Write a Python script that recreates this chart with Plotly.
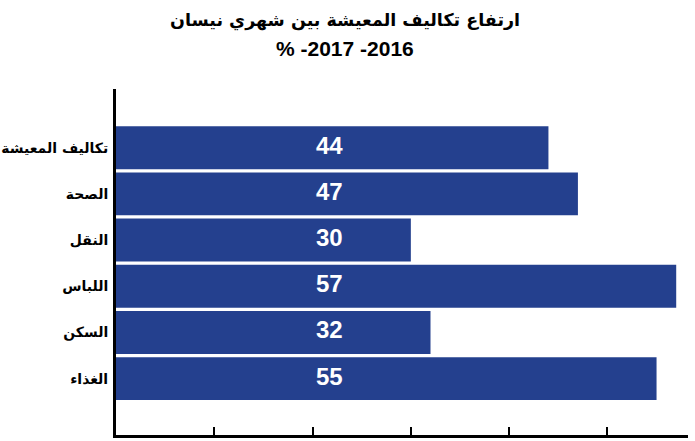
import plotly.graph_objects as go

# Data
categories = ["تكاليف المعيشة", "الصحة", "النقل", "اللباس", "السكن", "الغذاء"]
values = [44, 47, 30, 57, 32, 55]
title_main = "ارتفاع تكاليف المعيشة بين شهري نيسان"
title_sub = "% -2017 -2016"
tick_values = [0, 10, 20, 30, 40, 50]

bar_color = "#24408e"
x_max = 58.2
label_x = 21.7  # all value labels sit in one column

fig = go.Figure()

fig.add_trace(go.Bar(
    x=values,
    y=categories,
    orientation="h",
    marker=dict(color=bar_color, line=dict(width=0)),
    hoverinfo="x+y",
))

# value labels, white, in one column across the bars
fig.add_trace(go.Scatter(
    x=[label_x] * len(values),
    y=categories,
    mode="text",
    text=[str(v) for v in values],
    textfont=dict(family="Liberation Sans", size=24, color="white", weight="bold"),
    hoverinfo="skip",
))

# title as two separate texts; the digits line is forced left-to-right
fig.add_annotation(
    text="<b>" + title_main + "</b>",
    xref="paper", yref="paper", x=0.40, y=1.199,
    xanchor="center", yanchor="middle", showarrow=False,
    font=dict(family="DejaVu Sans", size=17.5, color="black"),
)
fig.add_annotation(
    text="<b>\u202d" + title_sub + "\u202c</b>",
    xref="paper", yref="paper", x=0.40, y=1.118,
    xanchor="center", yanchor="middle", showarrow=False,
    font=dict(family="Liberation Sans", size=21, color="black"),
)

fig.update_layout(
    width=695,
    height=441,
    margin=dict(l=116, r=7, t=89, b=6, autoexpand=False),
    paper_bgcolor="white",
    plot_bgcolor="white",
    showlegend=False,
    bargap=0.07,
)

fig.update_xaxes(
    range=[0, x_max],
    tickvals=tick_values[1:] + [x_max],
    showticklabels=False,
    ticks="inside",
    ticklen=8,
    tickwidth=2,
    tickcolor="black",
    showline=True,
    linecolor="black",
    linewidth=3,
    showgrid=False,
    zeroline=False,
    automargin=False,
)

fig.update_yaxes(
    type="category",
    range=[6.22, -1.27],
    showline=True,
    linecolor="black",
    linewidth=3,
    showgrid=False,
    zeroline=False,
    ticks="",
    ticklabelstandoff=2,
    automargin=False,
    tickfont=dict(family="DejaVu Sans", size=14, color="black", weight="bold"),
)

# drop the browser's default body margin so the figure fills the window
fig.write_html(
    "out.html",
    config={"displayModeBar": False},
    post_script="document.body.style.margin='0';",
)
